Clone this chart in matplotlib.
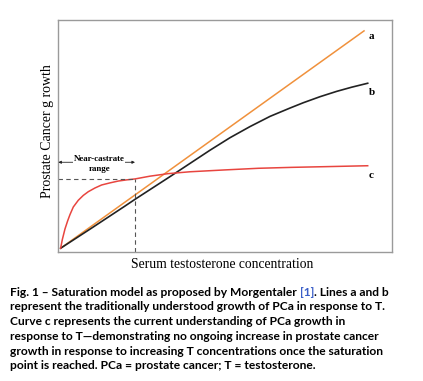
import matplotlib
matplotlib.use("Agg")
import matplotlib.pyplot as plt

# line a: straight (traditional model)
a_x = [0.07, 9.17]
a_y = [0.15, 9.53]

# curve b: traditional model, bending over at high T
b_x = [0.07, 1.0, 2.0, 2.30, 2.75, 3.35, 3.95, 4.55, 5.15, 5.75, 6.35, 6.95, 7.35, 7.85, 8.35, 8.80, 9.28]
b_y = [0.15, 1.02, 1.97, 2.26, 2.68, 3.24, 3.81, 4.38, 4.92, 5.40, 5.84, 6.20, 6.43, 6.69, 6.92, 7.10, 7.27]

# curve c: saturation model
c_x = [0.07, 0.12, 0.20, 0.28, 0.35, 0.45, 0.60, 0.75, 0.90, 1.10, 1.30, 1.55,
       1.80, 2.05, 2.30, 2.75, 3.30, 3.95, 5.0, 6.0, 7.0, 8.0, 9.28]
c_y = [0.15, 0.52, 0.98, 1.33, 1.60, 1.93, 2.22, 2.43, 2.59, 2.75, 2.88, 2.97,
       3.05, 3.10, 3.14, 3.26, 3.37, 3.45, 3.53, 3.60, 3.64, 3.67, 3.71]

sat_x = 2.30
sat_y = 3.14

curve_labels = ["a", "b", "c"]
label_y = [9.27, 6.89, 3.31]

caption = [
    "represent the traditionally understood growth of PCa in response to T.",
    "Curve c represents the current understanding of PCa growth in",
    "response to T\u2014demonstrating no ongoing increase in prostate cancer",
    "growth in response to increasing T concentrations once the saturation",
    "point is reached. PCa = prostate cancer; T = testosterone.",
]

W, H = 423, 381
fig = plt.figure(figsize=(W / 100, H / 100), dpi=100)
ax = fig.add_axes([58.3 / W, 1 - 251.7 / H, 333.4 / W, 231.7 / H])
ax.set_xlim(0, 10)
ax.set_ylim(0, 10)
ax.set_xticks([])
ax.set_yticks([])
for s in ax.spines.values():
    s.set_color("#9a9a9a")
    s.set_linewidth(1.0)

ax.plot(a_x, a_y, color="#f0913c", lw=1.1)
ax.plot(b_x, b_y, color="#222222", lw=1.2)
ax.plot(c_x, c_y, color="#e8453f", lw=1.1)

ax.plot([0, sat_x], [sat_y, sat_y], color="#555555", lw=0.8, ls=(0, (4, 3)))
ax.plot([sat_x, sat_x], [0, sat_y], color="#555555", lw=0.8, ls=(0, (4, 3)))

serif = "Liberation Serif"
for lab, ly in zip(curve_labels, label_y):
    ax.text(9.32, ly, lab, fontsize=8, family=serif, fontweight="bold", ha="left", va="center")

# near-castrate range arrow
ax.annotate("", xy=(0, 3.86), xytext=(sat_x, 3.86),
            arrowprops=dict(arrowstyle="<|-|>", color="#222222", lw=0.6,
                            mutation_scale=4, shrinkA=0, shrinkB=0))
ax.text(1.23, 4.0, "Near-castrate", fontsize=6.4, family=serif, fontweight="bold",
        ha="center", va="center", bbox=dict(fc="white", ec="none", pad=0.3))
ax.text(1.23, 3.56, "range", fontsize=6.4, family=serif, fontweight="bold",
        ha="center", va="center")

fig.text(47.3 / W, 1 - 131.5 / H, "Prostate Cancer g rowth", fontsize=10, family=serif,
         rotation=90, ha="center", va="center")
fig.text(221.7 / W, 1 - 264 / H, "Serum testosterone concentration", fontsize=9.8,
         family=serif, ha="center", va="center")

# caption
cfont = dict(fontsize=8.65, family="Lato", fontweight="bold", va="center")
x0 = 10 / W
y1 = 1 - 292.3 / H
renderer = fig.canvas.get_renderer()
t1 = fig.text(x0, y1, "Fig. 1 \u2013 Saturation model as proposed by Morgentaler ", **cfont)
e1 = t1.get_window_extent(renderer)
t2 = fig.text(e1.x1 / W, y1, "[1]", color="#3b5fc8", **cfont)
e2 = t2.get_window_extent(renderer)
fig.text(e2.x1 / W, y1, ". Lines a and b", **cfont)
for i, line in enumerate(caption):
    fig.text(x0, 1 - (307.0 + 14.7 * i) / H, line, **cfont)

fig.savefig("out.png", dpi=100)
